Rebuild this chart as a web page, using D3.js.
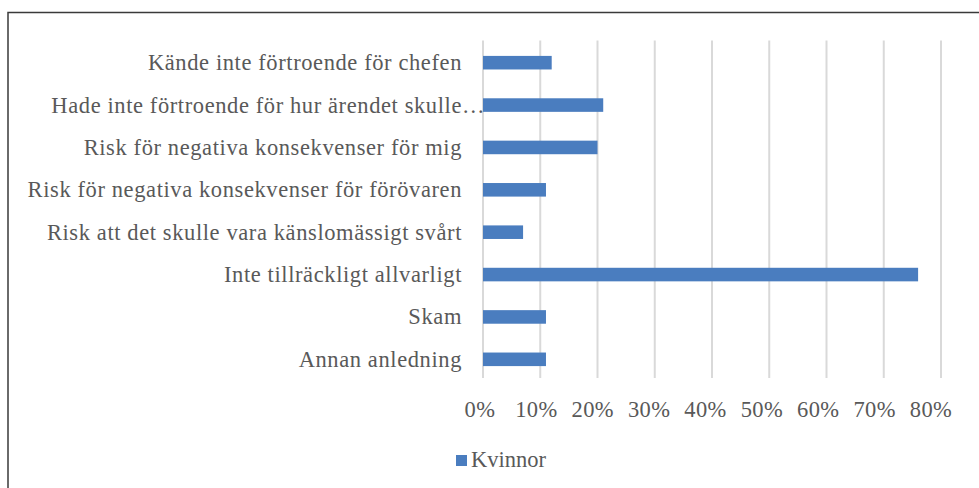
<!DOCTYPE html>
<html><head><meta charset="utf-8">
<script src="https://cdn.jsdelivr.net/npm/d3@7"></script>
<style>body{margin:0;background:#fff;} svg{display:block;} text{font-family:"Liberation Serif","Times New Roman",serif;}</style>
</head><body>
<script>
const categories = [
  "Kände inte förtroende för chefen",
  "Hade inte förtroende för hur ärendet skulle…",
  "Risk för negativa konsekvenser för mig",
  "Risk för negativa konsekvenser för förövaren",
  "Risk att det skulle vara känslomässigt svårt",
  "Inte tillräckligt allvarligt",
  "Skam",
  "Annan anledning"
];
const values = [0.12, 0.21, 0.20, 0.11, 0.07, 0.76, 0.11, 0.11];
const seriesName = "Kvinnor";
const ticks = [0, 0.1, 0.2, 0.3, 0.4, 0.5, 0.6, 0.7, 0.8];

const W = 979, H = 488;
const svg = d3.select("body").append("svg").attr("width", W).attr("height", H);
svg.append("rect").attr("x", 8).attr("y", 12.5).attr("width", W + 10).attr("height", H + 10)
  .attr("fill", "#fff").attr("stroke", "#3a3a3a").attr("stroke-width", 1.5);

const x = d3.scaleLinear().domain([0, 0.8]).range([483, 941]);
const xLab = d3.scaleLinear().domain([0, 0.8]).range([480, 931]);
const y = d3.scaleBand().domain(categories).range([41.5, 380.5]).paddingInner(0.68).paddingOuter(0.34);
const fs = 22.5;
const textColor = "#595959";
const labelRight = 462;

svg.append("g").selectAll("line").data(ticks).join("line")
  .attr("x1", d => x(d)).attr("x2", d => x(d))
  .attr("y1", 40.5).attr("y2", 378)
  .attr("stroke", "#d9d9d9").attr("stroke-width", 2);

svg.append("g").selectAll("rect").data(values).join("rect")
  .attr("x", x(0)).attr("y", (d, i) => y(categories[i]))
  .attr("width", d => x(d) - x(0)).attr("height", y.bandwidth())
  .attr("fill", "#4a7dbf");

const labels = svg.append("g").selectAll("text").data(categories).join("text")
  .attr("y", d => y(d) + y.bandwidth() / 2 + 7.5)
  .attr("font-size", fs).attr("fill", textColor)
  .attr("letter-spacing", 0.6);
labels.each(function(d) {
  const t = d3.select(this);
  const main = d.endsWith("…") ? d.slice(0, -1) : d;
  t.append("tspan").text(main);
  const w = this.getComputedTextLength();
  if (main !== d) t.append("tspan").attr("letter-spacing", 2.5).text("…");
  t.attr("x", labelRight - w);
});

svg.append("g").selectAll("text").data(ticks).join("text")
  .attr("x", d => xLab(d)).attr("y", 417)
  .attr("text-anchor", "middle")
  .attr("font-size", fs).attr("fill", textColor).attr("letter-spacing", 0.4)
  .text(d => d3.format(".0%")(d));

svg.append("rect").attr("x", 456).attr("y", 455).attr("width", 11).attr("height", 11).attr("fill", "#4a7dbf");
svg.append("text").attr("x", 471).attr("y", 467)
  .attr("font-size", fs).attr("fill", textColor).text(seriesName);
</script>
</body></html>
